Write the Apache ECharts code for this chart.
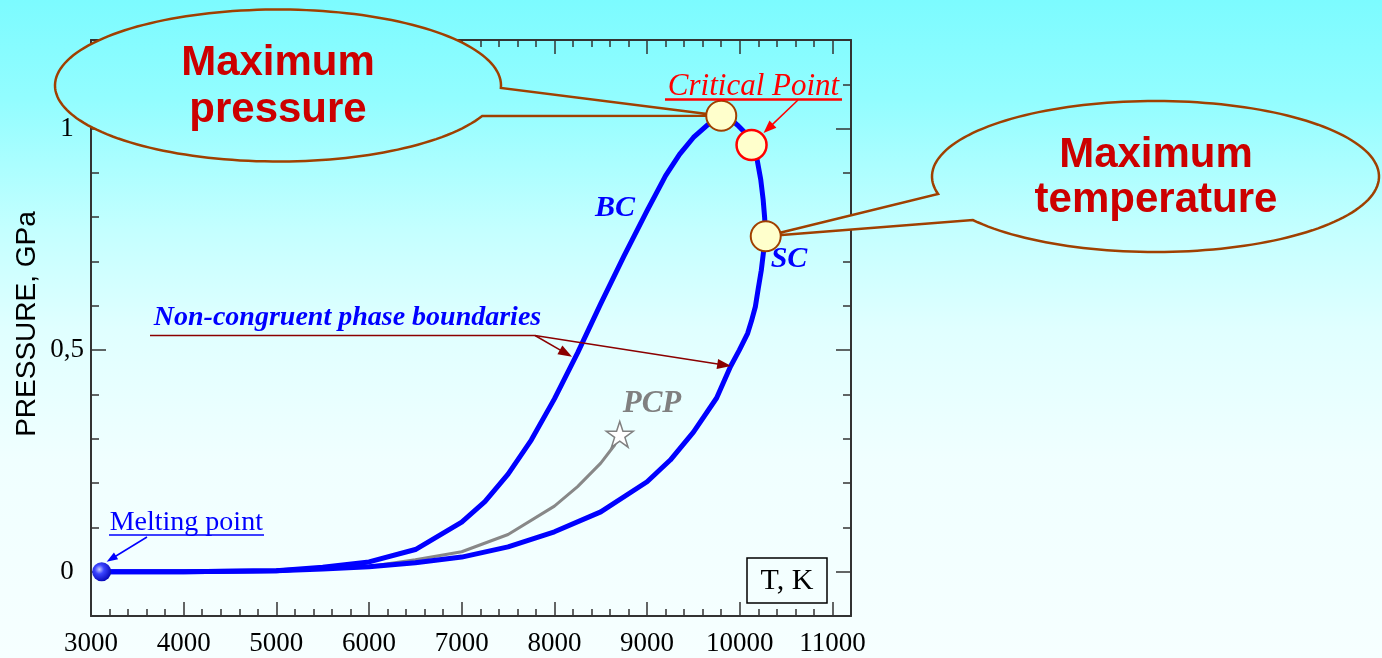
<!DOCTYPE html>
<html>
<head>
<meta charset="utf-8">
<script src="https://cdn.jsdelivr.net/npm/echarts@6/dist/echarts.min.js"></script>
<style>
html,body{margin:0;padding:0;width:1382px;height:658px;overflow:hidden;
background:linear-gradient(to bottom,#7cfbff 0%,#92fdff 15%,#c4ffff 35%,#e0ffff 50%,#f0ffff 70%,#f6ffff 100%);}
#c{width:1382px;height:658px;}
</style>
</head>
<body>
<div id="c"></div>
<script>
// ---- data (T in K, P in GPa) ----
const xTickValues = [3000, 4000, 5000, 6000, 7000, 8000, 9000, 10000, 11000];
const yTickValues = [0, 0.5, 1];
const yTickLabels = ['0', '0,5', '1'];

// boiling curve (BC) branch: melting point -> maximum pressure
const bcT = [3115, 4000, 5000, 5500, 6000, 6500, 7000, 7250, 7500, 7750, 8000, 8250, 8500, 8750, 9000, 9200, 9350, 9500, 9650, 9800];
const bcP = [0, 0, 0.002, 0.01, 0.022, 0.05, 0.112, 0.158, 0.22, 0.297, 0.39, 0.494, 0.605, 0.712, 0.815, 0.894, 0.942, 0.98, 1.008, 1.029];

// saturation curve (SC) branch: maximum pressure -> melting point
const scT = [9800, 9900, 9975, 10060, 10127, 10188, 10226, 10252, 10268, 10280, 10255, 10232, 10200, 10168, 10125, 10085, 9995, 9900, 9750, 9500, 9250, 9000, 8500, 8000, 7500, 7000, 6500, 6000, 5500, 5000, 4000, 3115];
const scP = [1.029, 1.022, 1.008, 0.99, 0.963, 0.929, 0.885, 0.84, 0.80, 0.757, 0.72, 0.68, 0.64, 0.598, 0.565, 0.538, 0.50, 0.463, 0.392, 0.315, 0.252, 0.203, 0.135, 0.09, 0.056, 0.033, 0.02, 0.011, 0.006, 0.002, 0, 0];

// congruent (PCP) line
const pcpT = [5500, 6000, 6500, 7000, 7500, 8000, 8250, 8500, 8650, 8705];
const pcpP = [0.006, 0.012, 0.027, 0.045, 0.084, 0.148, 0.192, 0.245, 0.286, 0.31];

const meltT = [3115], meltP = [0];
const pcpStarT = [8705], pcpStarP = [0.31];
const maxPT = [9800], maxPP = [1.029];
const critT = [10127], critP = [0.963];
const maxTT = [10280], maxTP = [0.757];

// ---- helpers ----
const SERIF = '"Liberation Serif","Times New Roman",serif';
const SANS = '"Liberation Sans",Arial,sans-serif';
const bgStops = [
  {offset:0, color:'#7cfbff'}, {offset:0.15, color:'#92fdff'}, {offset:0.35, color:'#c4ffff'},
  {offset:0.5, color:'#e0ffff'}, {offset:0.7, color:'#f0ffff'}, {offset:1, color:'#f6ffff'}
];
const pairs = (a, b) => a.map((v, i) => [v, b[i]]);
const axColor = '#333';

function starPath() {
  let d = '';
  for (let i = 0; i < 10; i++) {
    const r = i % 2 ? 38.2 : 100;
    const a = (-90 + i * 36) * Math.PI / 180;
    d += (i ? 'L' : 'M') + (100 + r * Math.cos(a)).toFixed(2) + ' ' + (100 + r * Math.sin(a)).toFixed(2) + ' ';
  }
  return 'path://' + d + 'Z';
}

function xAxisDef(pos, interval, len, showLine, showLabel) {
  return {
    type: 'value', position: pos, min: 3000, max: 11200, interval: interval,
    axisLine: {show: showLine, onZero: false, lineStyle: {color: axColor, width: 2}},
    axisTick: {show: true, inside: true, length: len, lineStyle: {color: axColor, width: 1.5}},
    axisLabel: {
      show: showLabel, margin: 14, color: '#000', fontFamily: SERIF, fontSize: 27,
      formatter: v => xTickValues.indexOf(Math.round(v)) >= 0 && Math.abs(v - Math.round(v)) < 1e-6 ? String(Math.round(v)) : ''
    },
    splitLine: {show: false}, minorTick: {show: false}
  };
}
function yAxisDef(pos, major, showLine, showLabel) {
  const tick = {show: true, inside: true, length: major ? 15 : 8, lineStyle: {color: axColor, width: 1.5}};
  if (major) tick.customValues = yTickValues;
  return {
    type: 'value', position: pos, min: -0.1, max: 1.2, interval: 0.1,
    axisLine: {show: showLine, onZero: false, lineStyle: {color: axColor, width: 2}},
    axisTick: tick,
    axisLabel: {
      show: showLabel, margin: 24, align: 'center', color: '#000', fontFamily: SERIF, fontSize: 27,
      formatter: v => {
        const i = yTickValues.findIndex(t => Math.abs(t - v) < 1e-7);
        return i >= 0 ? yTickLabels[i] : '';
      }
    },
    splitLine: {show: false}
  };
}

const chart = echarts.init(document.getElementById('c'), null, {renderer: 'canvas'});
const option = {
  animation: false,
  backgroundColor: 'transparent',
  grid: {left: 91, right: 531, top: 40, bottom: 42, containLabel: false},
  xAxis: [
    xAxisDef('bottom', 200, 7, true, true),
    xAxisDef('bottom', 1000, 14, false, false),
    xAxisDef('top', 200, 7, true, false),
    xAxisDef('top', 1000, 14, false, false)
  ],
  yAxis: [
    yAxisDef('left', false, true, true),
    yAxisDef('left', true, false, false),
    yAxisDef('right', false, true, false),
    yAxisDef('right', true, false, false)
  ],
  series: [
    {type: 'line', name: 'PCP', data: pairs(pcpT, pcpP), showSymbol: false, symbol: 'none', z: 2,
     lineStyle: {color: '#888888', width: 3, join: 'round', cap: 'round'}},
    {type: 'line', name: 'BC', data: pairs(bcT, bcP), showSymbol: false, symbol: 'none', z: 3,
     lineStyle: {color: '#0000ff', width: 5, join: 'round', cap: 'round'}},
    {type: 'line', name: 'SC', data: pairs(scT, scP), showSymbol: false, symbol: 'none', z: 3,
     lineStyle: {color: '#0000ff', width: 5, join: 'round', cap: 'round'}},
    {type: 'scatter', name: 'PCP point', data: pairs(pcpStarT, pcpStarP), symbol: starPath(), symbolSize: 27, symbolKeepAspect: true, z: 4,
     itemStyle: {color: '#ffffff', borderColor: '#808080', borderWidth: 1.5, opacity: 1}},
    {type: 'scatter', name: 'Melting point', data: pairs(meltT, meltP), symbol: 'circle', symbolSize: 19, z: 5,
     itemStyle: {opacity: 1, color: {type: 'radial', x: 0.38, y: 0.38, r: 0.7, colorStops: [
       {offset: 0, color: '#c8ccff'}, {offset: 0.35, color: '#3a44ff'}, {offset: 1, color: '#0000b0'}]}}},
    {type: 'scatter', name: 'Special points', symbol: 'circle', symbolSize: 30, z: 6,
     data: [
       {value: [maxPT[0], maxPP[0]], itemStyle: {borderColor: '#a04000'}},
       {value: [critT[0], critP[0]], itemStyle: {borderColor: '#ff0000', borderWidth: 2.5}},
       {value: [maxTT[0], maxTP[0]], itemStyle: {borderColor: '#a04000'}}
     ],
     itemStyle: {color: '#ffffcc', borderColor: '#a04000', borderWidth: 2, opacity: 1}}
  ]
};
chart.setOption(option);

const px = (t, p) => chart.convertToPixel({xAxisIndex: 0, yAxisIndex: 0}, [t, p]);
const bgGrad = new echarts.graphic.LinearGradient(0, 0, 0, 658, bgStops, true);

function callout(cx, cy, rx, ry, aStart, aEnd, tip) {
  const pts = [];
  const n = 160;
  for (let i = 0; i <= n; i++) {
    const a = (aStart + (aEnd - aStart) * i / n) * Math.PI / 180;
    pts.push([cx + rx * Math.cos(a), cy + ry * Math.sin(a)]);
  }
  pts.push(tip);
  return {type: 'polygon', z: 1, shape: {points: pts},
          style: {fill: bgGrad, stroke: '#a04000', lineWidth: 2.5, lineJoin: 'miter'}};
}
function arrow(x1, y1, x2, y2, color, w, hl, hw) {
  const dx = x2 - x1, dy = y2 - y1, L = Math.hypot(dx, dy), ux = dx / L, uy = dy / L;
  const bx = x2 - ux * hl, by = y2 - uy * hl;
  return [
    {type: 'line', z: 10, shape: {x1: x1, y1: y1, x2: bx + ux * 2, y2: by + uy * 2}, style: {stroke: color, lineWidth: w}},
    {type: 'polygon', z: 10, shape: {points: [[x2, y2], [bx - uy * hw, by + ux * hw], [bx + uy * hw, by - ux * hw]]},
     style: {fill: color}}
  ];
}
function txt(x, y, text, font, fill, rot) {
  return {type: 'text', x: x, y: y, z: 10, rotation: rot || 0,
          style: {text: text, font: font, fill: fill, align: 'center', verticalAlign: 'middle',
                  textAlign: 'center', textVerticalAlign: 'middle'}};
}
function hline(x1, x2, y, color, w) {
  return {type: 'line', z: 10, shape: {x1: x1, y1: y, x2: x2, y2: y}, style: {stroke: color, lineWidth: w}};
}

const pMaxP = px(maxPT[0], maxPP[0]);
const pMaxT = px(maxTT[0], maxTP[0]);
const pCrit = px(critT[0], critP[0]);
const pMelt = px(meltT[0], meltP[0]);
const pBCarrow = px(8190, 0.485);
const pSCarrow = px(9907, 0.464);

const g = [];
// callouts
g.push(callout(278, 85.5, 223, 76, 23.7, 361.9, pMaxP));
g.push(txt(278, 63, 'Maximum', 'bold 42px ' + SANS, '#cc0000'));
g.push(txt(278, 110, 'pressure', 'bold 42px ' + SANS, '#cc0000'));
g.push(callout(1155.5, 176.5, 223.5, 75.5, 166.6, 504.8, pMaxT));
g.push(txt(1156, 155, 'Maximum', 'bold 42px ' + SANS, '#cc0000'));
g.push(txt(1156, 200, 'temperature', 'bold 42px ' + SANS, '#cc0000'));
// critical point
g.push(txt(753.5, 87, 'Critical Point', 'italic 31px ' + SERIF, '#ff0000'));
g.push(hline(665, 842, 99.5, '#ff0000', 2.5));
g.push(...arrow(798, 100, pCrit[0] + 12, pCrit[1] - 12, '#ff0000', 1.5, 13, 5));
// curve names
g.push(txt(615, 208, 'BC', 'italic bold 30px ' + SERIF, '#0000ff'));
g.push(txt(789, 259, 'SC', 'italic bold 30px ' + SERIF, '#0000ff'));
g.push(txt(652, 404, 'PCP', 'italic bold 31px ' + SERIF, '#808080'));
// non-congruent label
g.push(txt(347.5, 318, 'Non-congruent phase boundaries', 'italic bold 28px ' + SERIF, '#0000ff'));
g.push(hline(150, 535, 335.5, '#8b0000', 1.7));
g.push(...arrow(535, 335.5, pBCarrow[0], pBCarrow[1], '#8b0000', 1.5, 14, 5));
g.push(...arrow(535, 335.5, pSCarrow[0], pSCarrow[1], '#8b0000', 1.5, 14, 5));
// melting point
g.push(txt(186.3, 522.7, 'Melting point', '28px ' + SERIF, '#0000ff'));
g.push(hline(109, 264, 535, '#0000ff', 1.5));
g.push(...arrow(147, 537, pMelt[0] + 5, pMelt[1] - 10, '#0000ff', 1.5, 11, 4));
// T, K box
g.push({type: 'rect', z: 10, shape: {x: 747, y: 558, width: 80, height: 45},
        style: {fill: 'rgba(0,0,0,0)', stroke: '#000', lineWidth: 1.5}});
g.push(txt(787, 581, 'T, K', '30px ' + SERIF, '#000'));
// y axis name
g.push(txt(27, 324, 'PRESSURE, GPa', '28px ' + SANS, '#000', Math.PI / 2));

chart.setOption({graphic: {elements: g}});
</script>
</body>
</html>
